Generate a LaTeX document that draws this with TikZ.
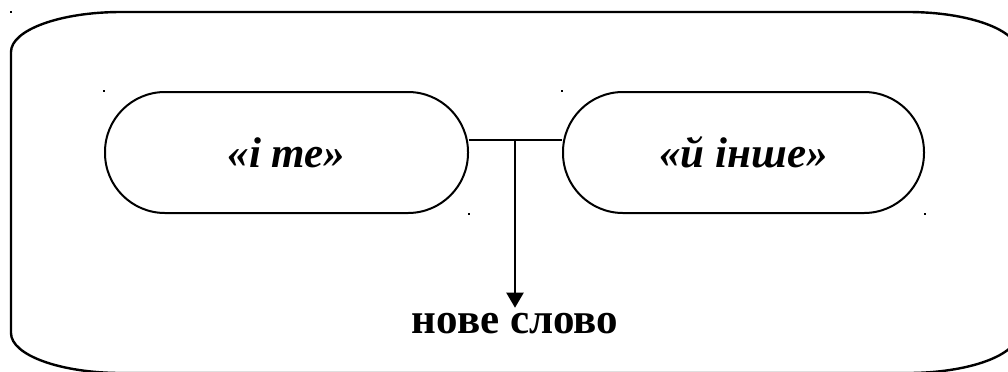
\documentclass[tikz,border=0pt]{standalone}
\usepackage{fontspec}
\setmainfont{Liberation Serif}
\usetikzlibrary{arrows.meta}
\tikzset{
  pill/.style={draw,line width=1pt,rounded corners=30pt,minimum height=60.5pt,inner sep=0pt,font=\fontsize{21.5}{26}\selectfont\bfseries\itshape},
}
\begin{document}
\begin{tikzpicture}[x=0.5pt,y=-0.5pt,line width=1pt]
\useasboundingbox (0,0) rectangle (1008,371);
\clip (0,0) rectangle (1008,371);
% frame
\draw[line width=1.2pt] (11,52) .. controls (11,29.9) and (60.3,12) .. (121,12) -- (908,12)
  .. controls (968.7,12) and (1018,29.9) .. (1018,52) -- (1018,333)
  .. controls (1018,355.1) and (968.7,373) .. (908,373) -- (121,373)
  .. controls (60.3,373) and (11,355.1) .. (11,333) -- cycle;
\coordinate (f) at (11,12);

\node[pill,minimum width=181.5pt] (ite) at (286.5,152.5) {«і те»};
\node[pill,minimum width=180.5pt] (yinshe) at (743.5,152.5) {«й інше»};
\node[anchor=base,inner sep=2pt,font=\fontsize{21.5}{26}\selectfont\bfseries] (novo) at (515,333) {нове слово};

\coordinate (join) at (515,140);
\draw (join -| ite.east) -- (join -| yinshe.west);
\draw[-{Triangle[width=8.5pt,length=7.5pt]}] (join) -- (novo.north);

% stray marks
\foreach \p in {f,ite.north west,ite.south east,yinshe.north west,yinshe.south east}
{
	\fill (\p) +(-1,-1) rectangle +(1,1);
}
\end{tikzpicture}
\end{document}
